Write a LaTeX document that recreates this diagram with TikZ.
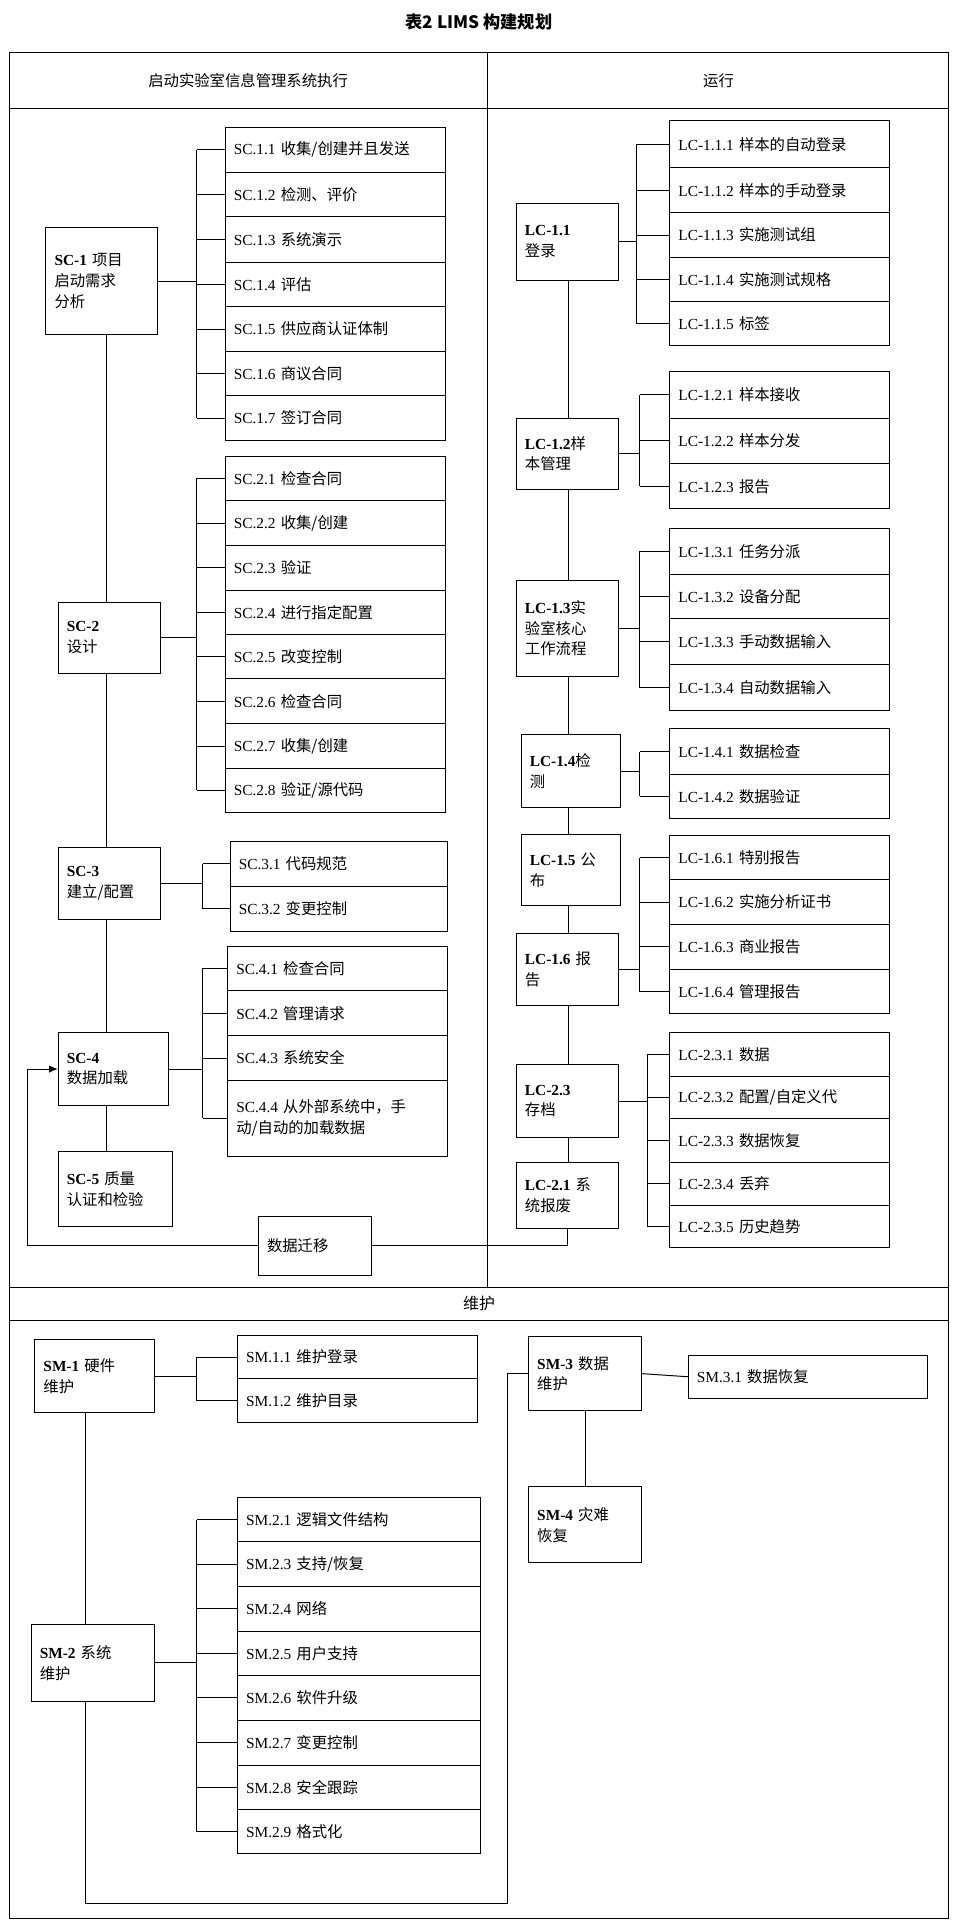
\documentclass[tikz,border=0pt]{standalone}
\usepackage{fontspec}
\setmainfont{Liberation Serif}
\newfontfamily\cjk{Noto Sans CJK SC}
\usetikzlibrary{arrows.meta}
\newcommand\C[1]{{\cjk #1}}
\tikzset{bx/.style={draw,thick,anchor=north west,inner xsep=7pt,align=left,font=\fontsize{12.5}{17}\selectfont}}
\newcommand\rb[6]{\node[bx,minimum width={(#4-#2)*1pt},minimum height={(#5-#3)*1pt},text width={(#4-#2-14)*1pt}] (#1) at (#2,#3) {#6};}
\begin{document}
\begin{tikzpicture}[x=1pt,y=-1pt,line width=0.8pt]
\useasboundingbox (0,0) rectangle (780,1573);
\node[font=\fontsize{14}{16}\selectfont\cjk\bfseries] (title) at (390,18) {表2 LIMS 构建规划};
\draw[thick] (8,43) rectangle (772,1562);
\draw[thick] (8,88) -- (772,88);
\draw[thick] (397,43) -- (397,1048);
\draw[thick] (8,1048) -- (772,1048);
\draw[thick] (8,1075) -- (772,1075);
\node[font=\fontsize{12.5}{15}\selectfont\cjk] (h1) at (202,66) {启动实验室信息管理系统执行};
\node[font=\fontsize{12.5}{15}\selectfont\cjk] (h2) at (585,66) {运行};
\node[font=\fontsize{13}{15}\selectfont\cjk] (h3) at (390,1061) {维护};
% ---- left column
\rb{sc1}{37}{185}{128}{272}{\textbf{SC-1} \C{项目}\\\C{启动需求}\\\C{分析}}
\rb{sc2}{47}{490}{130}{548}{\textbf{SC-2}\\\C{设计}}
\rb{sc3}{47}{690}{130}{748}{\textbf{SC-3}\\\C{建立/配置}}
\rb{sc4}{47}{840}{137}{900}{\textbf{SC-4}\\\C{数据加载}}
\rb{sc5}{47}{937}{140}{998}{\textbf{SC-5} \C{质量}\\\C{认证和检验}}
\rb{s11}{183}{103}{362}{140}{SC.1.1 \C{收集/创建并且发送}}
\rb{s12}{183}{140}{362}{176}{SC.1.2 \C{检测、评价}}
\rb{s13}{183}{176}{362}{213}{SC.1.3 \C{系统演示}}
\rb{s14}{183}{213}{362}{249}{SC.1.4 \C{评估}}
\rb{s15}{183}{249}{362}{286}{SC.1.5 \C{供应商认证体制}}
\rb{s16}{183}{286}{362}{322}{SC.1.6 \C{商议合同}}
\rb{s17}{183}{322}{362}{358}{SC.1.7 \C{签订合同}}
\rb{s21}{183}{371}{362}{407}{SC.2.1 \C{检查合同}}
\rb{s22}{183}{407}{362}{444}{SC.2.2 \C{收集/创建}}
\rb{s23}{183}{444}{362}{480}{SC.2.3 \C{验证}}
\rb{s24}{183}{480}{362}{516}{SC.2.4 \C{进行指定配置}}
\rb{s25}{183}{516}{362}{552}{SC.2.5 \C{改变控制}}
\rb{s26}{183}{552}{362}{589}{SC.2.6 \C{检查合同}}
\rb{s27}{183}{589}{362}{625}{SC.2.7 \C{收集/创建}}
\rb{s28}{183}{625}{362}{661}{SC.2.8 \C{验证/源代码}}
\rb{s31}{187}{685}{364}{721}{SC.3.1 \C{代码规范}}
\rb{s32}{187}{721}{364}{758}{SC.3.2 \C{变更控制}}
\rb{s41}{185}{770}{364}{806}{SC.4.1 \C{检查合同}}
\rb{s42}{185}{806}{364}{843}{SC.4.2 \C{管理请求}}
\rb{s43}{185}{843}{364}{879}{SC.4.3 \C{系统安全}}
\rb{s44}{185}{879}{364}{941}{SC.4.4 \C{从外部系统中，手}\\\C{动/自动的加载数据}}
\rb{mig}{210}{990}{302}{1038}{\C{数据迁移}}
\coordinate (spl) at (87,0);
\draw (sc1.south -| spl) -- (sc2.north -| spl);
\draw (sc2.south -| spl) -- (sc3.north -| spl);
\draw (sc3.south -| spl) -- (sc4.north -| spl);
\draw (sc4.south -| spl) -- (sc5.north -| spl);
\coordinate (b1) at (160,0);
\foreach \n in {s11,s12,s13,s14,s15,s16,s17} \draw (\n.west) -- (\n.west -| b1);
\draw (s11.west -| b1) -- (s17.west -| b1); \draw (sc1.east) -- (sc1.east -| b1);
\foreach \n in {s21,s22,s23,s24,s25,s26,s27,s28} \draw (\n.west) -- (\n.west -| b1);
\draw (s21.west -| b1) -- (s28.west -| b1); \draw (sc2.east) -- (sc2.east -| b1);
\coordinate (b3) at (165,0);
\foreach \n in {s31,s32,s41,s42,s43,s44} \draw (\n.west) -- (\n.west -| b3);
\draw (s31.west -| b3) -- (s32.west -| b3); \draw (sc3.east) -- (sc3.east -| b3);
\draw (s41.west -| b3) -- (s44.west -| b3); \draw (sc4.east) -- (sc4.east -| b3);
% ---- right column
\rb{lc11}{420}{165}{503}{228}{\textbf{LC-1.1}\\\C{登录}}
\rb{lc12}{420}{340}{503}{398}{\textbf{LC-1.2}\C{样}\\\C{本管理}}
\rb{lc13}{420}{472}{503}{550}{\textbf{LC-1.3}\C{实}\\\C{验室核心}\\\C{工作流程}}
\rb{lc14}{424}{598}{505}{657}{\textbf{LC-1.4}\C{检}\\\C{测}}
\rb{lc15}{424}{679}{505}{737}{\textbf{LC-1.5} \C{公}\\\C{布}}
\rb{lc16}{420}{760}{503}{818}{\textbf{LC-1.6} \C{报}\\\C{告}}
\rb{lc23}{420}{866}{503}{926}{\textbf{LC-2.3}\\\C{存档}}
\rb{lc21}{420}{946}{503}{1000}{\textbf{LC-2.1} \C{系}\\\C{统报废}}
\rb{l111}{545}{98}{724}{136}{LC-1.1.1 \C{样本的自动登录}}
\rb{l112}{545}{136}{724}{173}{LC-1.1.2 \C{样本的手动登录}}
\rb{l113}{545}{173}{724}{209}{LC-1.1.3 \C{实施测试组}}
\rb{l114}{545}{209}{724}{245}{LC-1.1.4 \C{实施测试规格}}
\rb{l115}{545}{245}{724}{281}{LC-1.1.5 \C{标签}}
\rb{l121}{545}{302}{724}{340}{LC-1.2.1 \C{样本接收}}
\rb{l122}{545}{340}{724}{377}{LC-1.2.2 \C{样本分发}}
\rb{l123}{545}{377}{724}{414}{LC-1.2.3 \C{报告}}
\rb{l131}{545}{430}{724}{467}{LC-1.3.1 \C{任务分派}}
\rb{l132}{545}{467}{724}{503}{LC-1.3.2 \C{设备分配}}
\rb{l133}{545}{503}{724}{541}{LC-1.3.3 \C{手动数据输入}}
\rb{l134}{545}{541}{724}{578}{LC-1.3.4 \C{自动数据输入}}
\rb{l141}{545}{593}{724}{630}{LC-1.4.1 \C{数据检查}}
\rb{l142}{545}{630}{724}{666}{LC-1.4.2 \C{数据验证}}
\rb{l161}{545}{680}{724}{716}{LC-1.6.1 \C{特别报告}}
\rb{l162}{545}{716}{724}{752}{LC-1.6.2 \C{实施分析证书}}
\rb{l163}{545}{752}{724}{789}{LC-1.6.3 \C{商业报告}}
\rb{l164}{545}{789}{724}{825}{LC-1.6.4 \C{管理报告}}
\rb{l231}{545}{840}{724}{876}{LC-2.3.1 \C{数据}}
\rb{l232}{545}{876}{724}{910}{LC-2.3.2 \C{配置/自定义代}}
\rb{l233}{545}{910}{724}{946}{LC-2.3.3 \C{数据恢复}}
\rb{l234}{545}{946}{724}{981}{LC-2.3.4 \C{丢弃}}
\rb{l235}{545}{981}{724}{1015}{LC-2.3.5 \C{历史趋势}}
\coordinate (spr) at (463,0);
\foreach \a/\b in {lc11/lc12,lc12/lc13,lc13/lc14,lc14/lc15,lc15/lc16,lc16/lc23,lc23/lc21}
  \draw (\a.south -| spr) -- (\b.north -| spr);
\coordinate (r1) at (518,0); \coordinate (r2) at (521,0); \coordinate (r3) at (527,0);
\foreach \n in {l111,l112,l113,l114,l115} \draw (\n.west) -- (\n.west -| r1);
\draw (l111.west -| r1) -- (l115.west -| r1); \draw (lc11.east) -- (lc11.east -| r1);
\foreach \n in {l121,l122,l123,l131,l132,l133,l134,l141,l142,l161,l162,l163,l164} \draw (\n.west) -- (\n.west -| r2);
\draw (l121.west -| r2) -- (l123.west -| r2); \draw (lc12.east) -- (lc12.east -| r2);
\draw (l131.west -| r2) -- (l134.west -| r2); \draw (lc13.east) -- (lc13.east -| r2);
\draw (l141.west -| r2) -- (l142.west -| r2); \draw (lc14.east) -- (lc14.east -| r2);
\draw (l161.west -| r2) -- (l164.west -| r2); \draw (lc16.east) -- (lc16.east -| r2);
\foreach \n in {l231,l232,l233,l234,l235} \draw (\n.west) -- (\n.west -| r3);
\draw (l231.west -| r3) -- (l235.west -| r3); \draw (lc23.east) -- (lc23.east -| r3);
% migration
\coordinate (ml) at (22,0);
\draw (lc21.south) |- (mig.east);
\draw[-{Latex[length=7pt,width=6pt]}] (mig.west) -| (ml |- sc4.west) -- (sc4.west);
% ---- maintenance
\rb{sm1}{28}{1090}{125}{1150}{\textbf{SM-1} \C{硬件}\\\C{维护}}
\rb{sm2}{25}{1322}{125}{1385}{\textbf{SM-2} \C{系统}\\\C{维护}}
\rb{sm3}{430}{1088}{522}{1148}{\textbf{SM-3} \C{数据}\\\C{维护}}
\rb{sm4}{430}{1210}{522}{1272}{\textbf{SM-4} \C{灾难}\\\C{恢复}}
\rb{m11}{193}{1087}{388}{1122}{SM.1.1 \C{维护登录}}
\rb{m12}{193}{1122}{388}{1158}{SM.1.2 \C{维护目录}}
\rb{m21}{193}{1219}{391}{1255}{SM.2.1 \C{逻辑文件结构}}
\rb{m23}{193}{1255}{391}{1291}{SM.2.3 \C{支持/恢复}}
\rb{m24}{193}{1291}{391}{1328}{SM.2.4 \C{网络}}
\rb{m25}{193}{1328}{391}{1364}{SM.2.5 \C{用户支持}}
\rb{m26}{193}{1364}{391}{1400}{SM.2.6 \C{软件升级}}
\rb{m27}{193}{1400}{391}{1437}{SM.2.7 \C{变更控制}}
\rb{m28}{193}{1437}{391}{1473}{SM.2.8 \C{安全跟踪}}
\rb{m29}{193}{1473}{391}{1509}{SM.2.9 \C{格式化}}
\rb{m31}{560}{1103}{755}{1138}{SM.3.1 \C{数据恢复}}
\coordinate (mb) at (160,0); \coordinate (sps) at (70,0); \coordinate (lp) at (413,1550);
\foreach \n in {m11,m12,m21,m23,m24,m25,m26,m27,m28,m29} \draw (\n.west) -- (\n.west -| mb);
\draw (m11.west -| mb) -- (m12.west -| mb); \draw (sm1.east) -- (sm1.east -| mb);
\draw (m21.west -| mb) -- (m29.west -| mb); \draw (sm2.east) -- (sm2.east -| mb);
\draw (sm1.south -| sps) -- (sm2.north -| sps);
\draw (sm2.south -| sps) |- (lp) |- (sm3.west);
\draw (sm3.east) -- (m31.west);
\draw (sm3.south) -- (sm4.north);
\end{tikzpicture}
\end{document}
